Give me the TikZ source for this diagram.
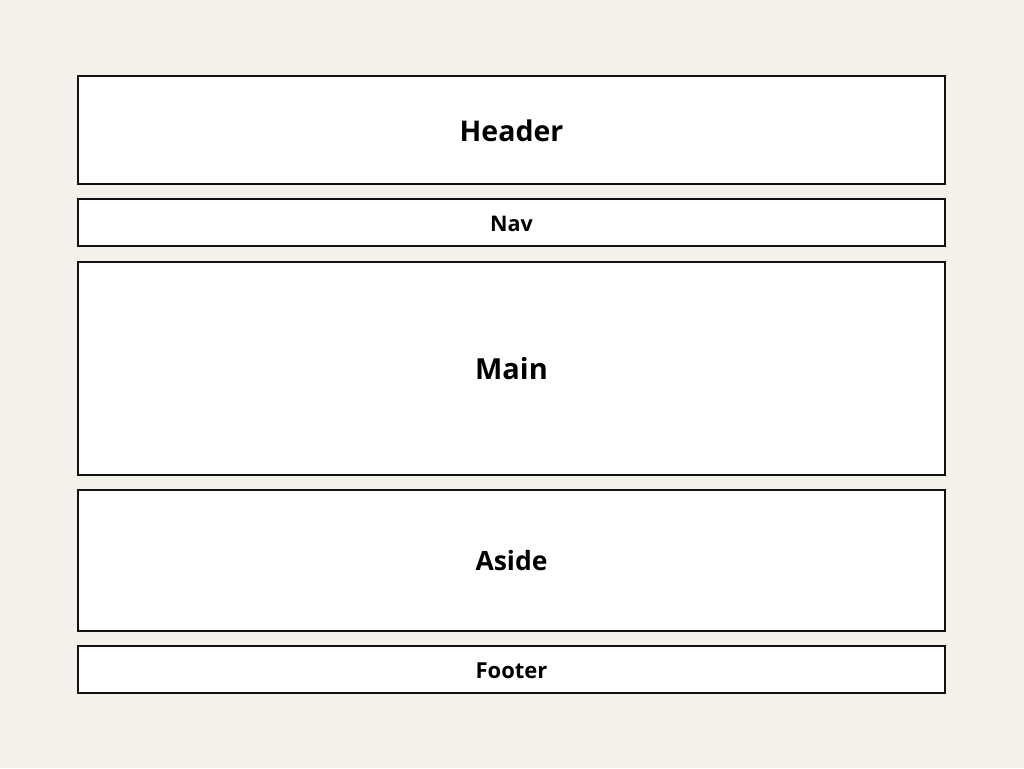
\documentclass[tikz,border=0pt]{standalone}
\usepackage{fontspec}
\setmainfont{Open Sans}
\definecolor{bg}{HTML}{F4F0EA}
\definecolor{edge}{HTML}{111111}
\begin{document}
\begin{tikzpicture}[x=1pt,y=-1pt,
  region/.style={draw=edge,fill=white,line width=2.7pt,inner sep=0pt,font=\bfseries}]
\fill[bg] (0,0) rectangle (1024,768);
\useasboundingbox (0,0) rectangle (1024,768);
\node[region,minimum width=867pt,minimum height=108pt] (header) at (511.5,130) {};
\node[font=\bfseries\fontsize{28.5}{32}\selectfont] at ([yshift=-1pt]header.center) {Header};
\node[region,minimum width=867pt,minimum height=47pt] (nav) at (511.5,222.5) {};
\node[font=\bfseries\fontsize{21.5}{24}\selectfont] at ([yshift=-1pt]nav.center) {Nav};
\node[region,minimum width=867pt,minimum height=213pt] (main) at (511.5,368.5) {};
\node[font=\bfseries\fontsize{29}{33}\selectfont] at ([yshift=-0.5pt]main.center) {Main};
\node[region,minimum width=867pt,minimum height=141pt] (aside) at (511.5,560.5) {};
\node[font=\bfseries\fontsize{26.5}{30}\selectfont] at ([yshift=-0.5pt]aside.center) {Aside};
\node[region,minimum width=867pt,minimum height=47pt] (footer) at (511.5,669.5) {};
\node[font=\bfseries\fontsize{22}{25}\selectfont] at ([yshift=-1.5pt]footer.center) {Footer};
\end{tikzpicture}
\end{document}
